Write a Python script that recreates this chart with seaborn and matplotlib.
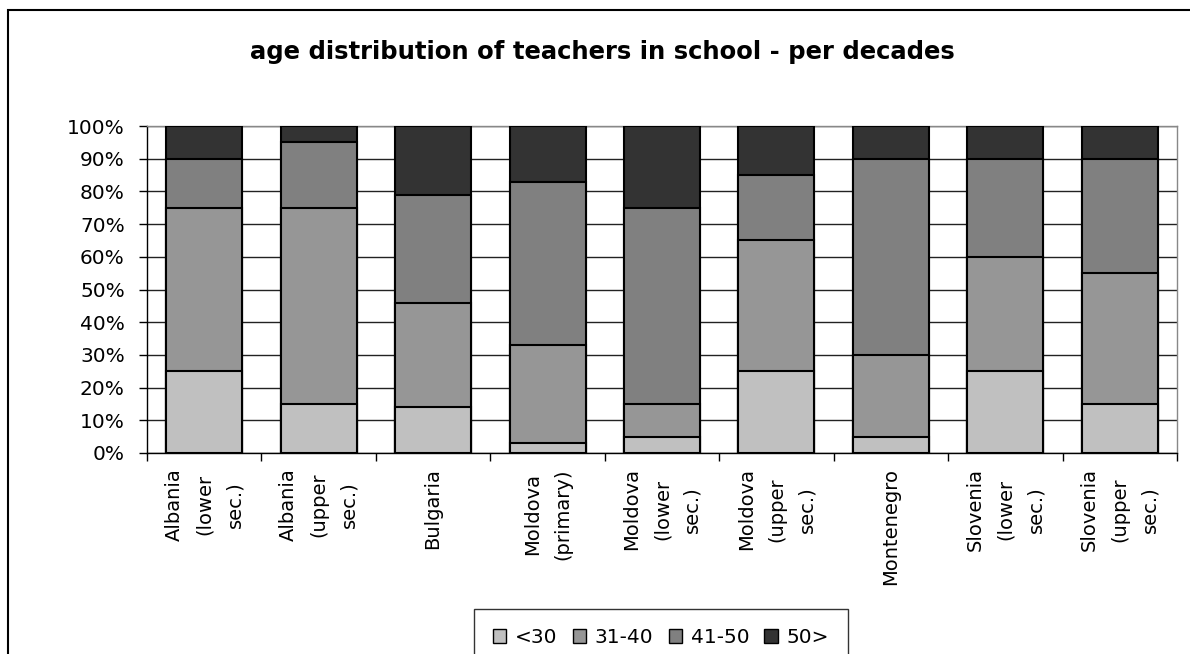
import matplotlib
matplotlib.use("Agg")
import matplotlib.pyplot as plt
from matplotlib.patches import Rectangle
from matplotlib.ticker import FixedLocator, PercentFormatter
import numpy as np
import pandas as pd
import seaborn as sns

# Share of teachers per age band (%)
schools = [
    "Albania\n(lower\nsec.)",
    "Albania\n(upper\nsec.)",
    "Bulgaria",
    "Moldova\n(primary)",
    "Moldova\n(lower\nsec.)",
    "Moldova\n(upper\nsec.)",
    "Montenegro",
    "Slovenia\n(lower\nsec.)",
    "Slovenia\n(upper\nsec.)",
]
age_bands = ["<30", "31-40", "41-50", "50>"]
under_30 = [25, 15, 14, 3, 5, 25, 5, 25, 15]
age_31_40 = [50, 60, 32, 30, 10, 40, 25, 35, 40]
age_41_50 = [15, 20, 33, 50, 60, 20, 60, 30, 35]
over_50 = [10, 5, 21, 17, 25, 15, 10, 10, 10]
band_colors = ["#C0C0C0", "#969696", "#808080", "#333333"]
y_ticks = [0, 10, 20, 30, 40, 50, 60, 70, 80, 90, 100]

sns.set_theme(style="white")
plt.rcParams["font.family"] = ["DejaVu Sans"]
plt.rcParams["text.color"] = "black"
plt.rcParams["xtick.color"] = "black"
plt.rcParams["ytick.color"] = "black"

df = pd.DataFrame({"school": schools, "<30": under_30, "31-40": age_31_40,
                   "41-50": age_41_50, "50>": over_50})
layers = df[age_bands].cumsum(axis=1).assign(school=schools)

fig = plt.figure(figsize=(11.9, 6.54), dpi=100)
ax = fig.add_axes([147 / 1190, 1 - 453 / 654, 1030 / 1190, 327 / 654])

# stacked bars: draw the tallest cumulative layer first, smaller ones on top
for band, color in reversed(list(zip(age_bands, band_colors))):
    sns.barplot(data=layers, x="school", y=band, order=schools, color=color,
                width=0.665, edgecolor="black", linewidth=1.5, saturation=1,
                ax=ax, zorder=3, label=band)
if ax.get_legend() is not None:
    ax.get_legend().remove()

ax.set_ylim(0, 100)
ax.set_xlim(-0.5, len(schools) - 0.5)
ax.yaxis.set_major_locator(FixedLocator(y_ticks))
ax.yaxis.set_major_formatter(PercentFormatter(decimals=0))
ax.grid(axis="y", color="#222222", linewidth=1, zorder=0)
ax.grid(axis="x", visible=False)
ax.set_xlabel("")
ax.set_ylabel("")

for side in ["top", "right"]:
    ax.spines[side].set_color("#888888")
    ax.spines[side].set_linewidth(1)
for side in ["left", "bottom"]:
    ax.spines[side].set_color("black")
    ax.spines[side].set_linewidth(1)

ax.tick_params(axis="y", which="major", left=True, length=6, width=1,
               color="black", labelsize=14.5, pad=10, labelcolor="black")
ax.set_xticks(np.arange(len(schools)))
ax.set_xticklabels(schools, rotation=90, ha="center", va="top",
                   multialignment="center", linespacing=1.75)
ax.tick_params(axis="x", which="major", bottom=True, length=0, labelsize=14,
               pad=11, labelcolor="black")
ax.set_xticks(np.arange(-0.5, len(schools)), minor=True)
ax.tick_params(axis="x", which="minor", bottom=True, length=6, width=1,
               color="black")

fig.text(602 / 1190, 1 - 52 / 654,
         "age distribution of teachers in school - per decades",
         ha="center", va="center", fontsize=17.5, fontweight="bold",
         color="black")

handles, labels = ax.get_legend_handles_labels()
order = [labels.index(b) for b in age_bands]
leg = fig.legend([handles[i] for i in order], [labels[i] for i in order],
                 loc="upper center", bbox_to_anchor=(661 / 1190, 1 - 609 / 654),
                 ncol=4, fontsize=14.5, frameon=True, fancybox=False,
                 handlelength=0.65, handleheight=0.65, handletextpad=0.45,
                 columnspacing=0.75, borderpad=0.95, borderaxespad=0)
leg.get_frame().set_edgecolor("black")
leg.get_frame().set_linewidth(1)
for h in leg.legend_handles:
    h.set_edgecolor("black")
    h.set_linewidth(1)

# outer chart frame
fig.patches.append(Rectangle((8 / 1190, -0.2), 1.2, 0.2 + (1 - 10 / 654),
                             transform=fig.transFigure, fill=False,
                             edgecolor="black", linewidth=1.5, clip_on=False))

fig.savefig("out.png", dpi=100)
